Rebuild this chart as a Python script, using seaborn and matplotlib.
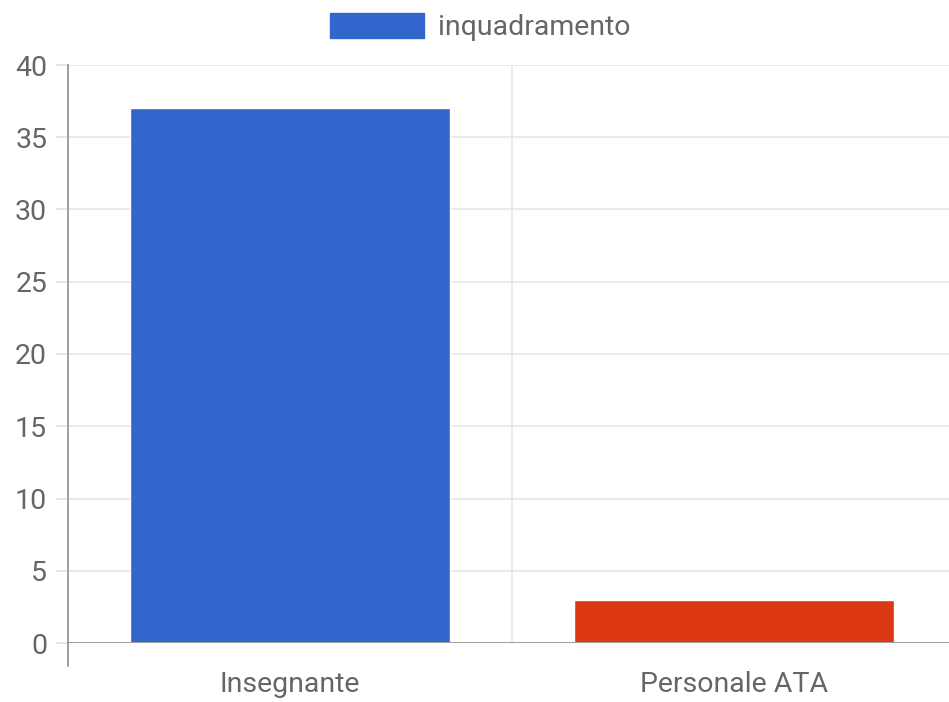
import pandas as pd
import matplotlib.pyplot as plt
import seaborn as sns
from matplotlib.patches import Patch

categories = ["Insegnante", "Personale ATA"]
values = [37, 3]
colors = ["#3366CC", "#DC3912"]
series_label = "inquadramento"
y_ticks = [0, 5, 10, 15, 20, 25, 30, 35, 40]

df = pd.DataFrame({"categoria": categories, "valore": values})

sns.set_style("white")
plt.rcParams['font.family'] = ['Roboto', 'DejaVu Sans']

fig = plt.figure(figsize=(9.49, 7.02), dpi=100)
ax = fig.add_axes([68 / 949, 59 / 702, 888 / 949, 578 / 702])

sns.barplot(data=df, x="categoria", y="valore", hue="categoria",
            palette=colors, width=0.72, legend=False, saturation=1,
            ax=ax, zorder=3)

ax.set_xlim(-0.5, 1.5)
ax.set_ylim(0, 40)
ax.set_yticks(y_ticks)
ax.set_xlabel("")
ax.set_ylabel("")

# horizontal grid
for y in y_ticks[1:]:
    ax.axhline(y, color="#e6e6e6", lw=1.2, zorder=1)
ax.axhline(0, color="#9e9e9e", lw=1.4, zorder=4)

# vertical category boundary lines
ax.set_xticks([-0.5, 0.5, 1.5], minor=True)
ax.tick_params(axis="x", which="minor", length=16, width=1.2, color="#e0e0e0")
ax.tick_params(axis="x", which="major", length=0, pad=20, labelsize=20.5,
               labelcolor="#666666")
ax.axvline(0.5, color="#e6e6e6", lw=1.2, zorder=1)

ax.tick_params(axis="y", which="major", length=9, width=1.2, color="#e0e0e0",
               pad=6, labelsize=20.5, labelcolor="#666666", left=True)

for side in ["top", "right", "bottom"]:
    ax.spines[side].set_visible(False)
ax.spines["left"].set_color("#9e9e9e")
ax.spines["left"].set_linewidth(1.4)
ax.spines["left"].set_bounds(0, 40)
# extend axis line below zero like the reference
ax.plot([-0.5, -0.5], [0, -1.6], color="#9e9e9e", lw=1.4, clip_on=False, zorder=4)

handle = Patch(facecolor=colors[0], edgecolor=colors[0])
fig.legend([handle], [series_label], loc="center",
           bbox_to_anchor=(480 / 949, 1 - 27 / 702), frameon=False,
           fontsize=20.5, labelcolor="#666666", handlelength=3.3,
           handleheight=0.95, handletextpad=0.5)

fig.savefig("out.png", dpi=100)
